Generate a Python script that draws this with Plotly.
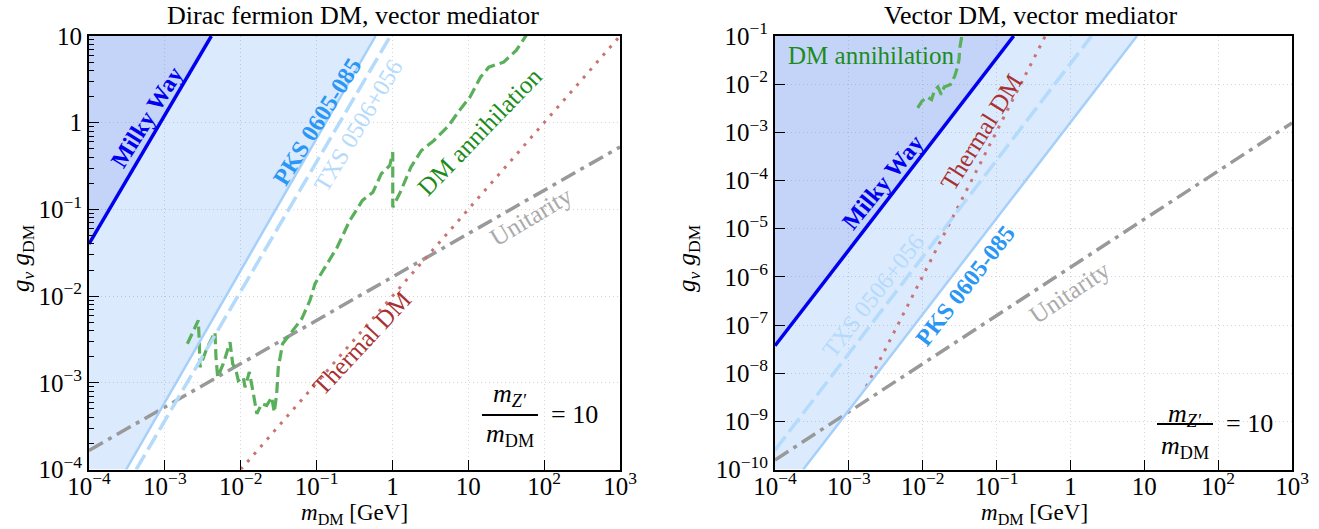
import math
import plotly.graph_objects as go

W, H = 1319, 529
FONT = "Liberation Serif"

# ---------------- data: left panel (Dirac fermion DM) ----------------
L_X_RANGE = (1e-4, 1e3)
L_Y_RANGE = (1e-4, 10)
L_MW_x = [1e-4, 4.1e-3]
L_MW_y = [0.04, 10]
L_PKS_x = [3.09e-4, 0.60]
L_PKS_y = [1e-4, 10]
L_TXS_x = [4.19e-4, 0.94]
L_TXS_y = [1e-4, 10]
L_TH_x = [1e-2, 1e3]
L_TH_y = [1e-4, 10]
L_UNI_x = [1e-4, 1e3]
L_UNI_y = [1.66e-4, 0.525]
L_ANN_x = [1.98e-3, 2.76e-3, 2.84e-3, 2.90e-3, 3.56e-3, 4.58e-3, 4.72e-3, 4.97e-3,
           5.89e-3, 7.23e-3, 7.83e-3, 8.67e-3, 9.29e-3, 1.08e-2, 1.14e-2, 1.30e-2,
           1.47e-2, 1.63e-2, 1.89e-2, 2.20e-2, 2.56e-2, 2.77e-2, 2.98e-2, 3.13e-2,
           3.57e-2, 4.93e-2, 6.37e-2, 8.18e-2, 9.53e-2, 0.187, 0.274, 0.402, 0.553,
           0.714, 0.923, 1.01, 1.01, 1.27, 1.75, 2.41, 3.53, 5.53, 7.60, 10.5, 14.5,
           18.6, 29.2, 42.8, 55.2, 60.3]
L_ANN_y = [2.82e-3, 5.24e-3, 3.08e-3, 1.51e-3, 2.47e-3, 3.84e-3, 1.97e-3, 1.16e-3,
           1.66e-3, 2.94e-3, 1.66e-3, 1.39e-3, 1.06e-3, 1.16e-3, 8.89e-4, 1.33e-3,
           7.46e-4, 4.39e-4, 5.73e-4, 5.47e-4, 6.82e-4, 4.58e-4, 7.46e-4, 1.51e-3,
           2.82e-3, 4.01e-3, 5.47e-3, 8.89e-3, 1.39e-2, 3.66e-2, 7.45e-2, 0.127, 0.158,
           0.258, 0.321, 0.457, 0.106, 0.158, 0.307, 0.478, 0.624, 0.929, 1.38, 1.97, 3.35,
           4.37, 4.99, 6.81, 9.29, 10.7]

# ---------------- data: right panel (Vector DM) ----------------
R_X_RANGE = (1e-4, 1e3)
R_Y_RANGE = (1e-10, 1e-1)
R_MW_x = [1e-4, 0.1706]
R_MW_y = [3.7e-8, 0.1]
R_PKS_x = [2.41e-4, 7.96]
R_PKS_y = [1e-10, 0.1]
R_TXS_x = [1e-4, 1.93]
R_TXS_y = [2.53e-10, 0.1]
R_TH_x = [1.72e-3, 0.457]
R_TH_y = [5.25e-9, 0.1]
R_UNI_x = [1e-4, 1e3]
R_UNI_y = [1.57e-10, 1.57e-3]
R_ANN_x = [8.55e-3, 9.75e-3, 1.156e-2, 1.318e-2, 1.445e-2, 1.607e-2, 1.786e-2,
           1.954e-2, 2.377e-2, 2.71e-2, 2.94e-2, 3.10e-2, 3.18e-2, 3.35e-2, 3.47e-2]
R_ANN_y = [3.21e-3, 4.42e-3, 5.43e-3, 4.79e-3, 7.46e-3, 8.77e-3, 6.08e-3,
           8.77e-3, 9.82e-3, 1.46e-2, 2.18e-2, 3.24e-2, 5.68e-2, 0.1, 0.126]

X_TICKS = [1e-4, 1e-3, 1e-2, 1e-1, 1, 10, 1e2, 1e3]
X_TICKTEXT = ["10<sup>−4</sup>", "10<sup>−3</sup>", "10<sup>−2</sup>", "10<sup>−1</sup>",
              "1", "10", "10<sup>2</sup>", "10<sup>3</sup>"]
L_Y_TICKS = [1e-4, 1e-3, 1e-2, 1e-1, 1, 10]
L_Y_TICKTEXT = ["10<sup>−4</sup>", "10<sup>−3</sup>", "10<sup>−2</sup>", "10<sup>−1</sup>", "1", "10"]
R_Y_TICKS = [10.0 ** e for e in range(-10, 0)]
R_Y_TICKTEXT = ["10<sup>−%d</sup>" % (-e) for e in range(-10, 0)]
L_Y_MINOR = [k * 10.0 ** d for d in range(-4, 1) for k in range(2, 10)]

# ---------------- styles ----------------
C_LIGHT_FILL = "rgba(30,130,240,0.16)"
C_DARK_FILL = "rgba(100,115,235,0.19)"
C_MW = "#0000ee"
C_PKS_LINE = "#a6d0fa"
C_PKS_TEXT = "#2a96f5"
C_TXS = "#b4dafc"
C_ANN_LINE = "#5aaf5a"
C_ANN_TEXT = "#1c8c1c"
C_TH_LINE = "#c97474"
C_TH_TEXT = "#a83232"
C_UNI_LINE = "#999999"
C_UNI_TEXT = "#aaaaaa"

fig = go.Figure()


def add_panel(xa, ya, xr, yr, mw, pks, txs, th, uni, ann):
    xmin, xmax = xr
    ymin, ymax = yr
    fig.add_trace(go.Scatter(x=list(pks[0]) + [xmin, xmin], y=list(pks[1]) + [ymax, ymin],
                             fill="toself", fillcolor=C_LIGHT_FILL, mode="none",
                             xaxis=xa, yaxis=ya, hoverinfo="skip"))
    fig.add_trace(go.Scatter(x=list(mw[0]) + [xmin], y=list(mw[1]) + [ymax],
                             fill="toself", fillcolor=C_DARK_FILL, mode="none",
                             xaxis=xa, yaxis=ya, hoverinfo="skip"))
    fig.add_trace(go.Scatter(x=uni[0], y=uni[1], mode="lines",
                             line=dict(color=C_UNI_LINE, width=3.5, dash="16px,6px,4px,6px"),
                             xaxis=xa, yaxis=ya))
    fig.add_trace(go.Scatter(x=th[0], y=th[1], mode="lines",
                             line=dict(color=C_TH_LINE, width=3, dash="3px,7px"),
                             xaxis=xa, yaxis=ya))
    fig.add_trace(go.Scatter(x=ann[0], y=ann[1], mode="lines",
                             line=dict(color=C_ANN_LINE, width=3.2, dash="11px,5px"),
                             xaxis=xa, yaxis=ya))
    fig.add_trace(go.Scatter(x=txs[0], y=txs[1], mode="lines",
                             line=dict(color=C_TXS, width=3.5, dash="17px,6px"),
                             xaxis=xa, yaxis=ya))
    fig.add_trace(go.Scatter(x=pks[0], y=pks[1], mode="lines",
                             line=dict(color=C_PKS_LINE, width=2.5),
                             xaxis=xa, yaxis=ya))
    fig.add_trace(go.Scatter(x=mw[0], y=mw[1], mode="lines",
                             line=dict(color=C_MW, width=3.5),
                             xaxis=xa, yaxis=ya))


add_panel("x", "y", L_X_RANGE, L_Y_RANGE, (L_MW_x, L_MW_y), (L_PKS_x, L_PKS_y),
          (L_TXS_x, L_TXS_y), (L_TH_x, L_TH_y), (L_UNI_x, L_UNI_y), (L_ANN_x, L_ANN_y))
add_panel("x2", "y2", R_X_RANGE, R_Y_RANGE, (R_MW_x, R_MW_y), (R_PKS_x, R_PKS_y),
          (R_TXS_x, R_TXS_y), (R_TH_x, R_TH_y), (R_UNI_x, R_UNI_y), (R_ANN_x, R_ANN_y))

TICKFONT = dict(family=FONT, size=25, color="black")


def axis(dom, rng, tickvals, ticktext, anchor, minor_vals=None, standoff=None):
    d = dict(type="log", domain=dom, range=[math.log10(rng[0]), math.log10(rng[1])],
             tickmode="array", tickvals=tickvals, ticktext=ticktext,
             ticks="inside", ticklen=10, tickwidth=1, tickcolor="black",
             showline=True, linecolor="black", linewidth=2, mirror=True,
             showgrid=True, gridcolor="#d6d6d6", griddash="1px,3px", gridwidth=1,
             zeroline=False, tickfont=TICKFONT, anchor=anchor, automargin=False)
    if minor_vals is not None:
        d["minor"] = dict(tickmode="array", tickvals=minor_vals, ticks="inside",
                          ticklen=5, tickwidth=1, tickcolor="black", showgrid=False)
    if standoff is not None:
        d["ticklabelstandoff"] = standoff
    return d


XD_L = [89 / W, 620 / W]
XD_R = [775 / W, 1292 / W]
YD = [1 - 469.5 / H, 1 - 36 / H]

base = dict(width=W, height=H, margin=dict(l=0, r=0, t=0, b=0),
            paper_bgcolor="white", plot_bgcolor="white", showlegend=False,
            font=dict(family=FONT, color="black"))
try:
    fig.update_layout(
        **base,
        xaxis=axis(XD_L, L_X_RANGE, X_TICKS, X_TICKTEXT, "y", standoff=-7),
        yaxis=axis(YD, L_Y_RANGE, L_Y_TICKS, L_Y_TICKTEXT, "x", L_Y_MINOR),
        xaxis2=axis(XD_R, R_X_RANGE, X_TICKS, X_TICKTEXT, "y2", standoff=-7),
        yaxis2=axis(YD, R_Y_RANGE, R_Y_TICKS, R_Y_TICKTEXT, "x2"),
    )
except ValueError:
    fig.update_layout(
        **base,
        xaxis=axis(XD_L, L_X_RANGE, X_TICKS, X_TICKTEXT, "y"),
        yaxis=axis(YD, L_Y_RANGE, L_Y_TICKS, L_Y_TICKTEXT, "x", L_Y_MINOR),
        xaxis2=axis(XD_R, R_X_RANGE, X_TICKS, X_TICKTEXT, "y2"),
        yaxis2=axis(YD, R_Y_RANGE, R_Y_TICKS, R_Y_TICKTEXT, "x2"),
    )

annotations = []


def ann(text, x, y, color="black", size=25, angle=0, xanchor="center"):
    annotations.append(dict(text=text, x=x / W, y=1 - y / H, xref="paper", yref="paper",
                            showarrow=False, textangle=angle, xanchor=xanchor,
                            yanchor="middle", font=dict(family=FONT, size=size, color=color)))


# titles
ann("Dirac fermion DM, vector mediator", 353, 16, size=26)
ann("Vector DM, vector mediator", 1030, 16, size=26)
# axis titles
for xc in (354, 1034):
    ann("<i>m</i><sub>DM</sub> [GeV]", xc, 514, size=23)
for xc in (22, 688):
    ann("<i>g</i><sub><i>ν</i></sub> <i>g</i><sub>DM</sub>", xc, 258, size=25, angle=-90)

# left panel labels
ann("<b>Milky Way</b>", 147, 117, C_MW, 24, -58)
ann("<b>PKS 0605-085</b>", 317, 122, C_PKS_TEXT, 24, -58)
ann("TXS 0506+056", 358, 126, C_TXS, 24, -59)
ann("DM annihilation", 480, 132, C_ANN_TEXT, 25, -46)
ann("Unitarity", 531, 217, C_UNI_TEXT, 25, -31)
ann("Thermal DM", 361, 343, C_TH_TEXT, 25, -47)

# right panel labels
ann("DM annihilation", 786, 55, C_ANN_TEXT, 25, 0, "left")
ann("<b>Milky Way</b>", 883, 182, C_MW, 24, -51)
ann("Thermal DM", 982, 132, C_TH_TEXT, 25, -58)
ann("TXS 0506+056", 873, 296, C_TXS, 24, -52)
ann("<b>PKS 0605-085</b>", 965, 286, C_PKS_TEXT, 24, -52)
ann("Unitarity", 1069, 292, C_UNI_TEXT, 25, -34)

# mass ratio fractions
shapes = []
for (xc, ynum, ybar, yden, xeq, yeq) in ((510, 398, 415, 433, 574, 414),
                                         (1185, 418, 424, 445, 1249, 423)):
    ann("<i>m</i><sub><i>Z′</i></sub>", xc, ynum - 3, size=26)
    ann("<i>m</i><sub>DM</sub>", xc, yden + 2, size=26)
    ann("= 10", xeq, yeq, size=26)
    shapes.append(dict(type="line", xref="paper", yref="paper",
                       x0=(xc - 28) / W, x1=(xc + 28) / W,
                       y0=1 - ybar / H, y1=1 - ybar / H,
                       line=dict(color="black", width=2)))

fig.update_layout(annotations=annotations, shapes=shapes)
fig.write_html("out.html")
